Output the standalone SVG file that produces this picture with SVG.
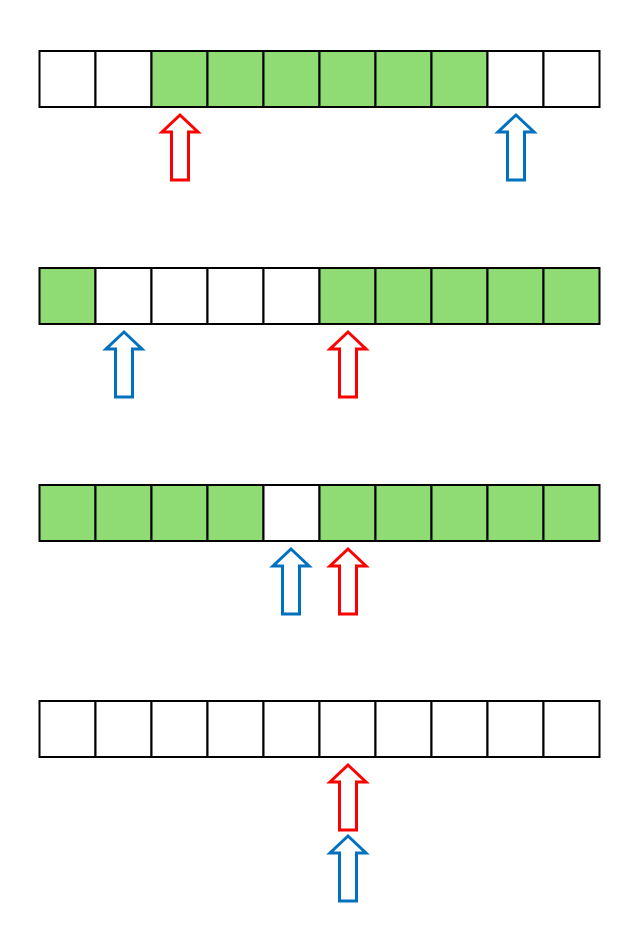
<svg xmlns="http://www.w3.org/2000/svg" xmlns:xlink="http://www.w3.org/1999/xlink" width="626" height="936" viewBox="0 0 626 936">
<style>
.c{stroke:#000;stroke-width:2;fill:#fff}
.g{fill:#8fdb74}
.red{fill:#fff;stroke:#ff0000;stroke-width:3}
.blue{fill:#fff;stroke:#0070c0;stroke-width:3}
</style>
<defs>
<path id="arr" d="M0,0 L18,17 L8.5,17 L8.5,65 L-8.5,65 L-8.5,17 L-18,17 Z"/>
</defs>
<rect width="626" height="936" fill="#fff"/>
<g id="row1" transform="translate(39.5,51)">
<rect class="c" x="0" y="0" width="56" height="56"/>
<rect class="c" x="56" y="0" width="56" height="56"/>
<rect class="c g" x="112" y="0" width="56" height="56"/>
<rect class="c g" x="168" y="0" width="56" height="56"/>
<rect class="c g" x="224" y="0" width="56" height="56"/>
<rect class="c g" x="280" y="0" width="56" height="56"/>
<rect class="c g" x="336" y="0" width="56" height="56"/>
<rect class="c g" x="392" y="0" width="56" height="56"/>
<rect class="c" x="448" y="0" width="56" height="56"/>
<rect class="c" x="504" y="0" width="56" height="56"/>
</g>
<g id="row2" transform="translate(39.5,268)">
<rect class="c g" x="0" y="0" width="56" height="56"/>
<rect class="c" x="56" y="0" width="56" height="56"/>
<rect class="c" x="112" y="0" width="56" height="56"/>
<rect class="c" x="168" y="0" width="56" height="56"/>
<rect class="c" x="224" y="0" width="56" height="56"/>
<rect class="c g" x="280" y="0" width="56" height="56"/>
<rect class="c g" x="336" y="0" width="56" height="56"/>
<rect class="c g" x="392" y="0" width="56" height="56"/>
<rect class="c g" x="448" y="0" width="56" height="56"/>
<rect class="c g" x="504" y="0" width="56" height="56"/>
</g>
<g id="row3" transform="translate(39.5,485)">
<rect class="c g" x="0" y="0" width="56" height="56"/>
<rect class="c g" x="56" y="0" width="56" height="56"/>
<rect class="c g" x="112" y="0" width="56" height="56"/>
<rect class="c g" x="168" y="0" width="56" height="56"/>
<rect class="c" x="224" y="0" width="56" height="56"/>
<rect class="c g" x="280" y="0" width="56" height="56"/>
<rect class="c g" x="336" y="0" width="56" height="56"/>
<rect class="c g" x="392" y="0" width="56" height="56"/>
<rect class="c g" x="448" y="0" width="56" height="56"/>
<rect class="c g" x="504" y="0" width="56" height="56"/>
</g>
<g id="row4" transform="translate(39.5,701)">
<rect class="c" x="0" y="0" width="56" height="56"/>
<rect class="c" x="56" y="0" width="56" height="56"/>
<rect class="c" x="112" y="0" width="56" height="56"/>
<rect class="c" x="168" y="0" width="56" height="56"/>
<rect class="c" x="224" y="0" width="56" height="56"/>
<rect class="c" x="280" y="0" width="56" height="56"/>
<rect class="c" x="336" y="0" width="56" height="56"/>
<rect class="c" x="392" y="0" width="56" height="56"/>
<rect class="c" x="448" y="0" width="56" height="56"/>
<rect class="c" x="504" y="0" width="56" height="56"/>
</g>
<g id="arrows">
<use href="#arr" xlink:href="#arr" class="red" transform="translate(180,115)"/>
<use href="#arr" xlink:href="#arr" class="blue" transform="translate(516,115)"/>
<use href="#arr" xlink:href="#arr" class="blue" transform="translate(124,332)"/>
<use href="#arr" xlink:href="#arr" class="red" transform="translate(348,332)"/>
<use href="#arr" xlink:href="#arr" class="blue" transform="translate(291,549)"/>
<use href="#arr" xlink:href="#arr" class="red" transform="translate(348,549)"/>
<use href="#arr" xlink:href="#arr" class="red" transform="translate(348,765)"/>
<use href="#arr" xlink:href="#arr" class="blue" transform="translate(348,836)"/>
</g>
</svg>
